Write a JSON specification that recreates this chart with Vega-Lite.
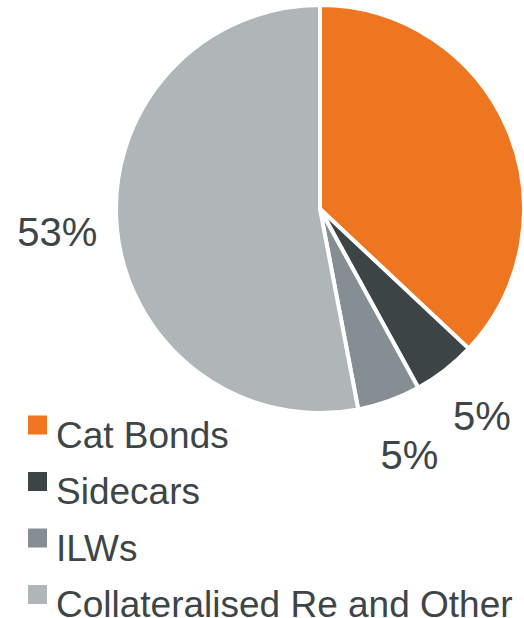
{
  "$schema": "https://vega.github.io/schema/vega-lite/v6.json",
  "width": 404,
  "height": 404,
  "autosize": {"type": "none"},
  "padding": {"left": 118, "top": 7, "right": 2, "bottom": 207},
  "background": "white",
  "data": {
    "values": [
      {"category": "Cat Bonds", "value": 37, "idx": 1},
      {"category": "Sidecars", "value": 5, "idx": 2},
      {"category": "ILWs", "value": 5, "idx": 3},
      {"category": "Collateralised Re and Other", "value": 53, "idx": 4}
    ]
  },
  "transform": [
    {"calculate": "datum.category == 'Cat Bonds' ? '' : datum.value + '%'", "as": "label"}
  ],
  "encoding": {
    "theta": {"field": "value", "type": "quantitative", "stack": true},
    "order": {"field": "idx", "type": "quantitative"},
    "color": {
      "field": "category",
      "type": "nominal",
      "scale": {
        "domain": ["Cat Bonds", "Sidecars", "ILWs", "Collateralised Re and Other"],
        "range": ["#EE7621", "#3C4446", "#858E92", "#B0B5B7"]
      },
      "legend": {
        "title": null,
        "orient": "none",
        "legendX": -99,
        "legendY": 411,
        "padding": 0,
        "symbolType": "M-1,-2.21H1V-0.21H-1Z",
        "symbolSize": 361,
        "symbolStrokeWidth": 0,
        "symbolOpacity": 1,
        "labelFont": "Liberation Sans",
        "labelFontSize": 37,
        "labelColor": "#3D4547",
        "labelOffset": 0,
        "labelBaseline": "middle",
        "labelLimit": 0,
        "rowPadding": 16.5
      }
    }
  },
  "layer": [
    {
      "mark": {"type": "arc", "outerRadius": 204, "stroke": "white", "strokeWidth": 4}
    },
    {
      "mark": {"type": "text", "radius": 264, "font": "Liberation Sans", "fontSize": 40, "color": "#3D4547", "align": "center", "baseline": "middle"},
      "encoding": {
        "text": {"field": "label", "type": "nominal"},
        "color": {"value": "#3D4547"}
      }
    }
  ],
  "config": {"view": {"stroke": null}}
}
